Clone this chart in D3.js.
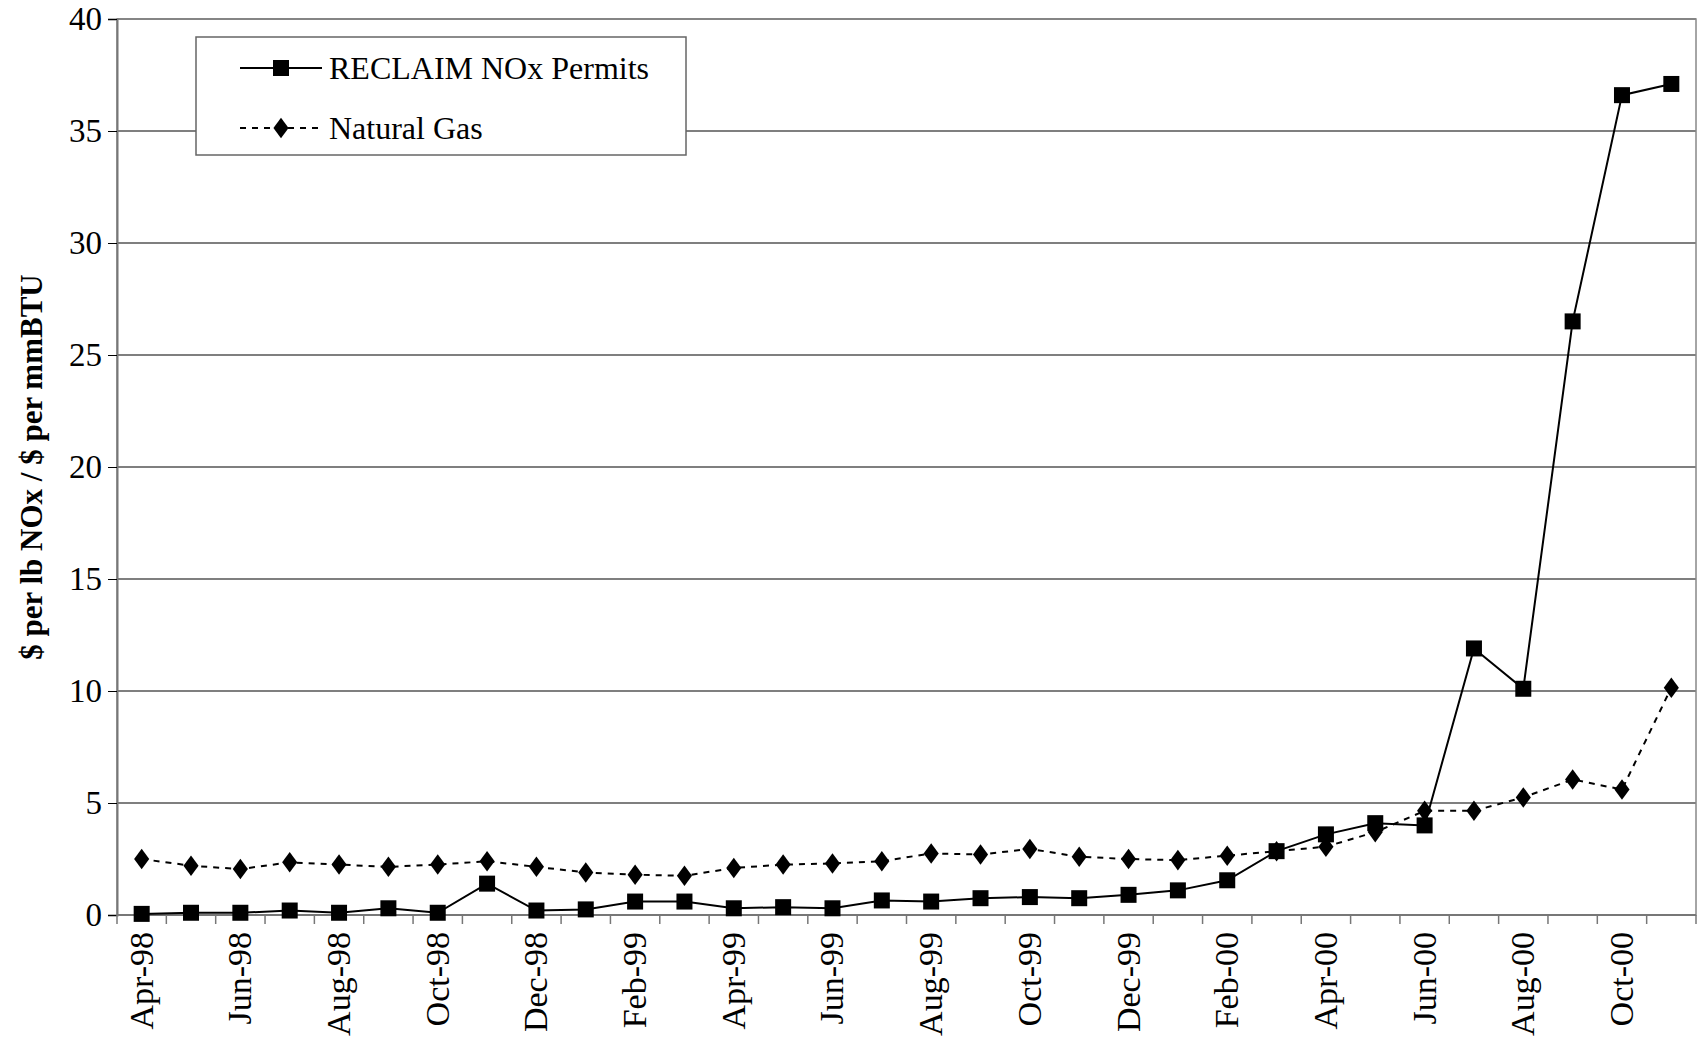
<!DOCTYPE html>
<html><head><meta charset="utf-8">
<script src="https://cdn.jsdelivr.net/npm/d3@7"></script>
<style>body{margin:0;background:#fff}svg{font-family:"Liberation Serif","Times New Roman",serif}</style>
</head><body><svg id="chart" width="1697" height="1039"></svg>
<script>
const months = ["Apr-98","May-98","Jun-98","Jul-98","Aug-98","Sep-98","Oct-98","Nov-98","Dec-98",
  "Jan-99","Feb-99","Mar-99","Apr-99","May-99","Jun-99","Jul-99","Aug-99","Sep-99","Oct-99","Nov-99","Dec-99",
  "Jan-00","Feb-00","Mar-00","Apr-00","May-00","Jun-00","Jul-00","Aug-00","Sep-00","Oct-00","Nov-00"];
const noxPermits = [0.05,0.1,0.1,0.2,0.1,0.3,0.1,1.4,0.2,0.25,0.6,0.6,0.3,0.35,0.3,0.65,0.6,0.75,0.8,0.75,0.9,
  1.1,1.55,2.85,3.6,4.1,4.0,11.9,10.1,26.5,36.6,37.1];
const naturalGas = [2.5,2.2,2.05,2.35,2.25,2.15,2.25,2.4,2.15,1.9,1.8,1.75,2.1,2.25,2.3,2.4,2.75,2.7,2.95,2.6,2.5,
  2.45,2.65,2.85,3.05,3.7,4.65,4.65,5.25,6.05,5.6,10.15];
const yTicks = [0,5,10,15,20,25,30,35,40];

const margin = {top: 19, right: 1, bottom: 124, left: 117},
    width = 1697 - margin.left - margin.right,
    height = 1039 - margin.top - margin.bottom;

const svg = d3.select("#chart");
const g = svg.append("g").attr("transform", "translate(" + margin.left + "," + margin.top + ")");

const x = d3.scaleBand().domain(months).range([0, width]);
const y = d3.scaleLinear().domain([0, 40]).range([height, 0]);

// gridlines
g.selectAll(".grid").data(yTicks.slice(1)).enter().append("line")
  .attr("x1", 0).attr("x2", width)
  .attr("y1", d => y(d)).attr("y2", d => y(d))
  .attr("stroke", "#000").attr("stroke-width", 1.2);

// plot border
g.append("rect").attr("width", width).attr("height", height)
  .attr("fill", "none").attr("stroke", "#888").attr("stroke-width", 1.5);

// y axis
const yAxis = g.append("g").call(d3.axisLeft(y).tickValues(yTicks).tickSize(9).tickPadding(6));
yAxis.select(".domain").attr("stroke", "#777").attr("stroke-width", 2);
yAxis.selectAll("text").attr("font-size", 33).attr("fill", "#000").attr("font-family", "Liberation Serif");

// x axis: ticks at band boundaries
const xa = g.append("g").attr("transform", "translate(0," + height + ")");
xa.append("line").attr("x1", 0).attr("x2", width).attr("stroke", "#777").attr("stroke-width", 2);
xa.selectAll(".tk").data(months.concat(["end"])).enter().append("line")
  .attr("x1", (d, i) => i * x.bandwidth()).attr("x2", (d, i) => i * x.bandwidth())
  .attr("y1", 0).attr("y2", 9).attr("stroke", "#777").attr("stroke-width", 1.5);
xa.selectAll(".lbl").data(months.filter((d, i) => i % 2 === 0)).enter().append("text")
  .attr("transform", d => "translate(" + (x(d) + x.bandwidth() / 2 + 11) + ",17) rotate(-90)")
  .attr("text-anchor", "end").attr("font-size", 34).text(d => d);

// y label
svg.append("text")
  .attr("transform", "translate(42," + (margin.top + height / 2) + ") rotate(-90)")
  .attr("text-anchor", "middle").attr("font-size", 31).attr("font-weight", "bold")
  .text("$ per lb NOx / $ per mmBTU");

const cx = i => x(months[i]) + x.bandwidth() / 2;
const line = d3.line().x((d, i) => cx(i)).y(d => y(d));

g.append("path").datum(naturalGas).attr("d", line).attr("fill", "none")
  .attr("stroke", "#000").attr("stroke-width", 2).attr("stroke-dasharray", "6,6");
g.selectAll(".gas").data(naturalGas).enter().append("path")
  .attr("d", d3.symbol().type(d3.symbolDiamond).size(150))
  .attr("transform", (d, i) => "translate(" + cx(i) + "," + y(d) + ") scale(1.15,0.9)");

g.append("path").datum(noxPermits).attr("d", line).attr("fill", "none")
  .attr("stroke", "#000").attr("stroke-width", 2);
g.selectAll(".nox").data(noxPermits).enter().append("rect")
  .attr("x", (d, i) => cx(i) - 8).attr("y", d => y(d) - 8).attr("width", 16).attr("height", 16);

// legend
const lg = svg.append("g").attr("transform", "translate(196,37)");
lg.append("rect").attr("width", 490).attr("height", 118).attr("fill", "#fff").attr("stroke", "#666").attr("stroke-width", 1.5);
lg.append("line").attr("x1", 44).attr("x2", 126).attr("y1", 31).attr("y2", 31).attr("stroke", "#000").attr("stroke-width", 2);
lg.append("rect").attr("x", 77).attr("y", 23).attr("width", 16).attr("height", 16);
lg.append("text").attr("x", 133).attr("y", 42).attr("font-size", 32).text("RECLAIM NOx Permits");
lg.append("line").attr("x1", 44).attr("x2", 126).attr("y1", 91).attr("y2", 91).attr("stroke", "#000").attr("stroke-width", 2).attr("stroke-dasharray", "6,6");
lg.append("path").attr("d", d3.symbol().type(d3.symbolDiamond).size(150)).attr("transform", "translate(85,91) scale(1.15,0.9)");
lg.append("text").attr("x", 133).attr("y", 102).attr("font-size", 32).text("Natural Gas");
</script></body></html>
